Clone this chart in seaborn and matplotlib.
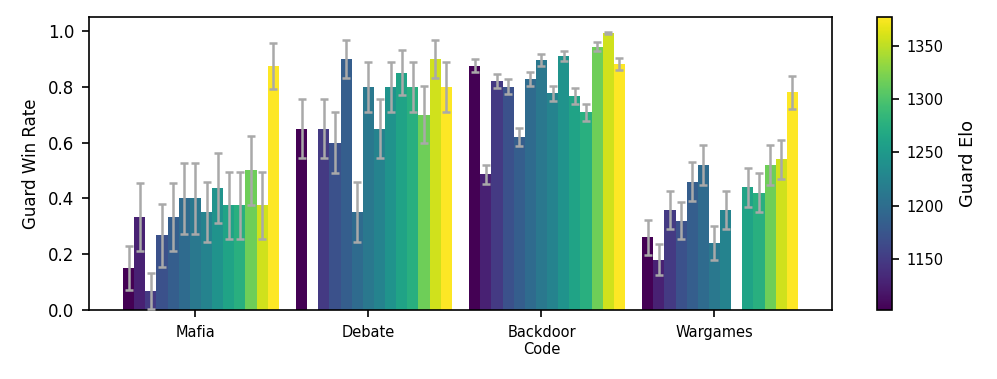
import numpy as np
import pandas as pd
import matplotlib
matplotlib.use("Agg")
import matplotlib.pyplot as plt
import seaborn as sns

# Games (x categories) and their display labels
games = ["Mafia", "Debate", "Backdoor Code", "Wargames"]
game_labels = ["Mafia", "Debate", "Backdoor\nCode", "Wargames"]

# Guard models, sorted by Elo
guards = [f"guard_{i:02d}" for i in range(1, 15)]
guard_elo = [1102, 1127, 1149, 1170, 1183, 1197, 1212, 1225, 1243, 1262, 1276, 1316, 1357, 1377]

# Win rates per game (None = no data for that guard)
mafia_rate = [0.15, 0.333, 0.067, 0.267, 0.333, 0.40, 0.40, 0.35, 0.4375, 0.375, 0.375, 0.50, 0.375, 0.875]
mafia_err = [0.08, 0.122, 0.064, 0.114, 0.122, 0.126, 0.126, 0.107, 0.124, 0.121, 0.121, 0.125, 0.121, 0.083]

debate_rate = [0.65, None, 0.65, 0.60, 0.90, 0.35, 0.80, 0.65, 0.80, 0.85, 0.80, 0.70, 0.90, 0.80]
debate_err = [0.107, None, 0.107, 0.110, 0.067, 0.107, 0.089, 0.107, 0.089, 0.080, 0.089, 0.102, 0.067, 0.089]

backdoor_rate = [0.876, 0.486, 0.82, 0.80, 0.62, 0.827, 0.896, 0.776, 0.909, 0.766, 0.709, 0.944, 0.993, 0.881]
backdoor_err = [0.022, 0.033, 0.025, 0.027, 0.032, 0.025, 0.020, 0.028, 0.018, 0.028, 0.030, 0.015, 0.005, 0.022]

wargames_rate = [0.26, 0.18, 0.36, 0.32, 0.46, 0.52, 0.24, 0.36, None, 0.44, 0.42, 0.52, 0.54, 0.78]
wargames_err = [0.062, 0.055, 0.068, 0.066, 0.070, 0.071, 0.060, 0.068, None, 0.070, 0.070, 0.071, 0.071, 0.060]


def main():
    rates = [mafia_rate, debate_rate, backdoor_rate, wargames_rate]
    errs = [mafia_err, debate_err, backdoor_err, wargames_err]

    rows = []
    for game, r_list, e_list in zip(games, rates, errs):
        for guard, r, e in zip(guards, r_list, e_list):
            if r is None:
                continue
            rows.append({"game": game, "guard": guard, "win_rate": r, "err": e})
    df = pd.DataFrame(rows)

    norm = plt.Normalize(min(guard_elo), max(guard_elo))
    cmap = plt.get_cmap("viridis")
    palette = {g: cmap(norm(e)) for g, e in zip(guards, guard_elo)}

    fig = plt.figure(figsize=(997 / 150, 379 / 150), dpi=150)
    ax = fig.add_axes([89 / 997, 69 / 379, 743 / 997, 293 / 379])
    cax = fig.add_axes([877 / 997, 69 / 379, 15 / 997, 293 / 379])

    width = 0.9
    sns.barplot(
        data=df, x="game", y="win_rate", hue="guard",
        order=games, hue_order=guards, palette=palette,
        width=width, errorbar=None, saturation=1, linewidth=0,
        legend=False, ax=ax,
    )

    # Error bars on top of seaborn's bars
    bar_w = width / len(guards)
    err_lookup = {(row.game, row.guard): row.err for row in df.itertuples()}
    for guard, container in zip(guards, ax.containers):
        for bar in container:
            cx = bar.get_x() + bar.get_width() / 2
            game = games[int(round(cx))]
            ax.errorbar(cx, bar.get_height(), yerr=err_lookup[(game, guard)],
                        fmt="none", ecolor="darkgray", elinewidth=1.2,
                        capsize=2, capthick=1.2, zorder=3)

    ax.set_xticks(np.arange(len(games)) - bar_w / 2)
    ax.set_xticklabels(game_labels, fontsize=7)
    ax.set_xlim(-width / 2 - 0.197, len(games) - 1 + width / 2 + 0.197)
    ax.set_ylim(0, 1.05)
    ax.set_yticks(np.arange(0, 1.01, 0.2))
    ax.tick_params(axis="y", labelsize=8)
    ax.set_xlabel("")
    ax.set_ylabel("Guard Win Rate", fontsize=8)

    sm = plt.cm.ScalarMappable(norm=norm, cmap=cmap)
    cbar = fig.colorbar(sm, cax=cax)
    cbar.set_ticks([1150, 1200, 1250, 1300, 1350])
    cbar.ax.tick_params(labelsize=7)
    cbar.set_label("Guard Elo", fontsize=8.5, labelpad=7)

    fig.savefig("out.png", dpi=150)


if __name__ == "__main__":
    main()
